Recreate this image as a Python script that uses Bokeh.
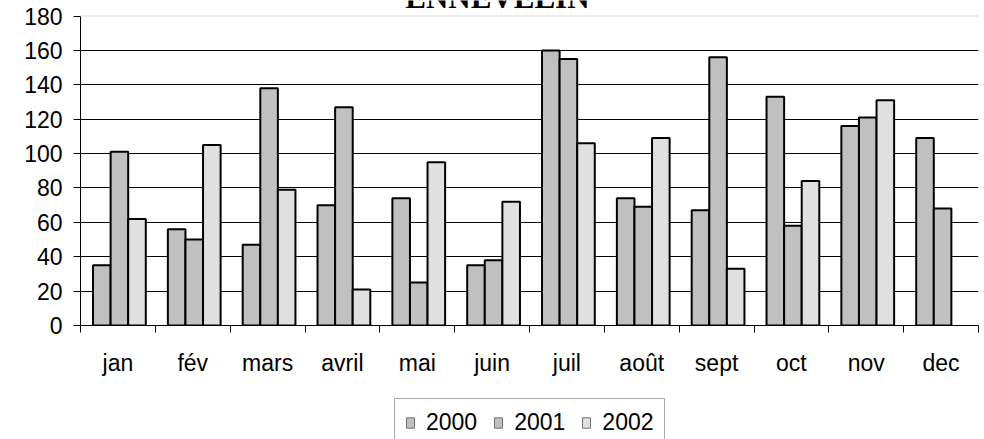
from bokeh.plotting import figure
from bokeh.layouts import column
from bokeh.models import FixedTicker, Span, Label, Legend, LegendItem, Range1d
from bokeh.embed import file_html
from bokeh.resources import INLINE

# ---- data ----
months = ["jan", "fév", "mars", "avril", "mai", "juin", "juil", "août", "sept", "oct", "nov", "dec"]
series = ["2000", "2001", "2002"]
y2000 = [35, 56, 47, 70, 74, 35, 160, 74, 67, 133, 116, 109]
y2001 = [101, 50, 138, 127, 25, 38, 155, 69, 156, 58, 121, 68]
y2002 = [62, 105, 79, 21, 95, 72, 106, 109, 33, 84, 131, None]
y_ticks = [0, 20, 40, 60, 80, 100, 120, 140, 160, 180]
title_text = "ENNEVELIN"

colors = ["#C0C0C0", "#C0C0C0", "#E0E0E0"]
FONT = "Liberation Sans"
FS = "23px"

# frame reaches the top edge so the (cut) title can be drawn above the 180 line
y_top = y_ticks[-1] * 325.0 / 309.5

p = figure(width=984, height=390,
           x_range=Range1d(0, len(months)), y_range=Range1d(y_ticks[0], y_top),
           output_backend="svg", toolbar_location=None,
           min_border_left=80, min_border_right=6, min_border_top=0, min_border_bottom=65)
p.outline_line_color = None
p.background_fill_color = "white"
p.border_fill_color = "white"

# legend strip (second figure, same side borders so the column keeps frames aligned)
q = figure(width=984, height=49,
           x_range=Range1d(0, len(months)), y_range=Range1d(y_ticks[0], y_ticks[-1]),
           output_backend="svg", toolbar_location=None,
           x_axis_type=None, y_axis_type=None,
           min_border_left=80, min_border_right=6, min_border_top=0, min_border_bottom=0)
q.outline_line_color = None
q.xgrid.visible = False
q.ygrid.visible = False
q.background_fill_color = "white"
q.border_fill_color = "white"

bw = 0.235
offsets = [-bw, 0.0, bw]
legend_items = []
for name, vals, col, off in zip(series, [y2000, y2001, y2002], colors, offsets):
    xs = [i + 0.5 + off + 0.02 for i, v in enumerate(vals) if v is not None]
    tops = [v for v in vals if v is not None]
    p.vbar(x=xs, top=tops, bottom=0, width=bw, fill_color=col,
           line_color="black", line_width=2)
    # hidden twin in the legend strip, used only for the thin-bordered swatch
    twin = q.vbar(x=xs, top=tops, bottom=0, width=bw, fill_color=col,
                  line_color="#707070", line_width=1, visible=False)
    legend_items.append(LegendItem(label=name, renderers=[twin]))

# grid
p.xgrid.visible = False
p.ygrid.ticker = FixedTicker(ticks=y_ticks[1:-1])
p.ygrid.grid_line_color = "#000000"
p.ygrid.grid_line_width = 1
p.add_layout(Span(location=y_ticks[-1], dimension="width", line_color="#D9D9D9", line_width=1))

# x axis
xa = p.xaxis[0]
xa.ticker = FixedTicker(ticks=[i + 0.5 for i in range(len(months))],
                        minor_ticks=list(range(len(months) + 1)))
xa.major_label_overrides = {i + 0.5: m for i, m in enumerate(months)}
xa.major_tick_out = 0
xa.major_tick_in = 0
xa.minor_tick_out = 7
xa.minor_tick_in = 0
xa.minor_tick_line_color = "black"
xa.axis_line_color = "black"
xa.major_label_standoff = 17
xa.major_label_text_font = FONT
xa.major_label_text_font_size = FS
xa.major_label_text_color = "black"

# y axis
ya = p.yaxis[0]
ya.ticker = FixedTicker(ticks=y_ticks)
ya.bounds = (y_ticks[0], y_ticks[-1])
ya.major_tick_out = 7
ya.major_tick_in = 0
ya.minor_tick_line_color = None
ya.axis_line_color = "black"
ya.major_tick_line_color = "black"
ya.major_label_standoff = 11
ya.major_label_text_font = FONT
ya.major_label_text_font_size = FS
ya.major_label_text_color = "black"

# title (partly cut at the top edge, as in the reference)
p.add_layout(Label(x=5.571, y=y_ticks[-1], y_offset=19, text=title_text,
                   text_font="Liberation Serif", text_font_style="bold",
                   text_font_size="31px", text_align="center",
                   text_baseline="alphabetic", text_color="black"))

legend = Legend(items=legend_items, orientation="horizontal", location=(314, -8),
                glyph_width=10, glyph_height=13, label_standoff=11, spacing=16,
                padding=10, margin=0, border_line_color="#555555", border_line_width=1,
                label_text_font=FONT, label_text_font_size=FS, label_text_color="black",
                background_fill_color="white", background_fill_alpha=1)
q.add_layout(legend)

layout = column(p, q, spacing=0)
open("out.html", "w").write(file_html(layout, INLINE))
